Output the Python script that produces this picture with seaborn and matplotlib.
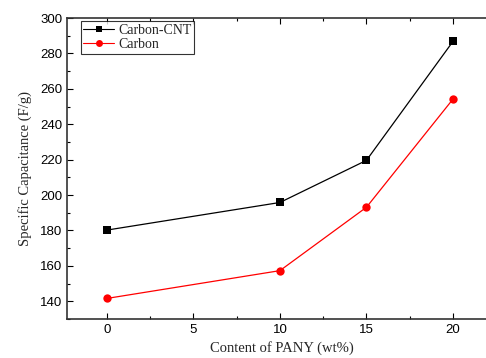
import pandas as pd
import seaborn as sns
import matplotlib.pyplot as plt
from matplotlib.ticker import MultipleLocator

content = [0, 10, 15, 20]
carbon_cnt = [180.2, 195.8, 219.6, 286.8]
carbon = [141.6, 157.3, 193.1, 254.2]

df = pd.DataFrame({
    'content': content * 2,
    'cap': carbon_cnt + carbon,
    'sample': ['Carbon-CNT'] * 4 + ['Carbon'] * 4,
})

sns.set_theme(style="ticks")
plt.rcParams['font.family'] = ['Liberation Sans', 'DejaVu Sans']

fig = plt.figure(figsize=(4.86, 3.58), dpi=100)
ax = fig.add_axes([0.1379, 0.109, 0.885, 0.8407])

sns.lineplot(data=df, x='content', y='cap', hue='sample', style='sample',
             palette={'Carbon-CNT': 'black', 'Carbon': 'red'},
             markers={'Carbon-CNT': 's', 'Carbon': 'o'},
             dashes=False, markersize=6, markeredgewidth=0, linewidth=0.9, ax=ax)

ax.set_xlim(-2.3, 22.55)
ax.set_ylim(130, 300)
ax.xaxis.set_major_locator(MultipleLocator(5))
ax.xaxis.set_minor_locator(MultipleLocator(2.5))
ax.yaxis.set_major_locator(MultipleLocator(20))
ax.yaxis.set_minor_locator(MultipleLocator(10))
ax.tick_params(which='both', direction='in', top=True, right=True, labelsize=9.5, colors='black')
ax.tick_params(which='major', length=4, width=0.8)
ax.tick_params(which='minor', length=2.5, width=0.8)
for s in ax.spines.values():
    s.set_linewidth(1.2)
    s.set_color('#333333')

ax.set_xlabel('Content of PANY (wt%)', family='Liberation Serif', fontsize=10.5)
ax.set_ylabel('Specific Capacitance (F/g)', family='Liberation Serif', fontsize=10.5, labelpad=6)

leg = ax.legend(loc='upper left', bbox_to_anchor=(0.025, 1.0), frameon=True, fancybox=False,
                prop={'family': 'Liberation Serif', 'size': 10}, handlelength=2.2,
                borderpad=0.2, labelspacing=0.1, handletextpad=0.3, borderaxespad=0.2)
leg.get_frame().set_edgecolor('black')
leg.get_frame().set_linewidth(0.8)
for line in leg.get_lines():
    line.set_linewidth(0.8)
    line.set_markersize(5)

fig.savefig('out.png', dpi=100)
